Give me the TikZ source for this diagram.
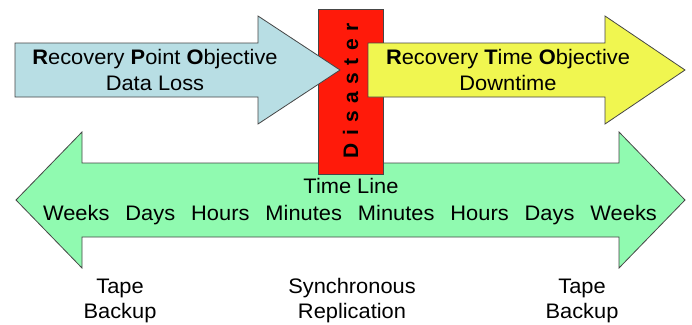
\documentclass[tikz,border=0pt]{standalone}
\usepackage{fontspec}
\setmainfont{Liberation Sans}
\definecolor{rpoblue}{RGB}{184,222,228}
\definecolor{rtoyellow}{RGB}{240,246,80}
\definecolor{disred}{RGB}{255,26,10}
\definecolor{tlgreen}{RGB}{144,250,176}
\definecolor{edge}{RGB}{70,70,70}
\begin{document}
\begin{tikzpicture}[x=1pt,y=-1pt,
  shapeline/.style={draw=edge,line width=0.8pt,line join=miter},
  lbl/.style={inner sep=0pt,anchor=base,xscale=1.04,font=\fontsize{21}{25}\selectfont}]
\useasboundingbox (0,0) rectangle (692,324);
\fill[white] (0,0) rectangle (692,324);
% green timeline double arrow
\draw[shapeline,fill=tlgreen] (16,200) -- (82,132) -- (82,163) -- (619,163) -- (619,132)
  -- (685,200) -- (619,268) -- (619,237) -- (82,237) -- (82,268) -- cycle;
% red disaster bar
\draw[shapeline,fill=disred] (318,9) rectangle (383,174);
\node[inner sep=0pt,rotate=90,font=\fontsize{21}{25}\selectfont\bfseries] (dis) at (350.5,91)
  {D\hspace{7.4pt}i\hspace{7.4pt}s\hspace{7.4pt}a\hspace{7.4pt}s\hspace{7.4pt}t\hspace{7.4pt}e\hspace{7.4pt}r};
% blue RPO arrow
\draw[shapeline,fill=rpoblue] (15,43) -- (258,43) -- (258,16) -- (340,70) -- (258,124)
  -- (258,97) -- (15,97) -- cycle;
% yellow RTO arrow
\draw[shapeline,fill=rtoyellow] (368,43) -- (605,43) -- (605,16) -- (685,70) -- (605,124)
  -- (605,97) -- (368,97) -- cycle;
% texts
\node[lbl] (rpo1) at (155,64) {\textbf{R}ecovery \textbf{P}oint \textbf{O}bjective};
\node[lbl] (rpo2) at (155,90) {Data Loss};
\node[lbl] (rto1) at (508,64) {\textbf{R}ecovery \textbf{T}ime \textbf{O}bjective};
\node[lbl] (rto2) at (508,90) {Downtime};
\node[lbl] (tl1) at (351,193) {Time Line};
\node[lbl] (tl2) at (350,220) {Weeks\hspace{15.4pt}Days\hspace{15.4pt}Hours\hspace{15.4pt}Minutes\hspace{15.4pt}Minutes\hspace{15.4pt}Hours\hspace{15.4pt}Days\hspace{15.4pt}Weeks};
\node[lbl] (tb1a) at (120,293) {Tape};
\node[lbl] (tb1b) at (120,318) {Backup};
\node[lbl] (syna) at (352,293) {Synchronous};
\node[lbl] (synb) at (352,318) {Replication};
\node[lbl] (tb2a) at (582,293) {Tape};
\node[lbl] (tb2b) at (582,318) {Backup};
\end{tikzpicture}
\end{document}
